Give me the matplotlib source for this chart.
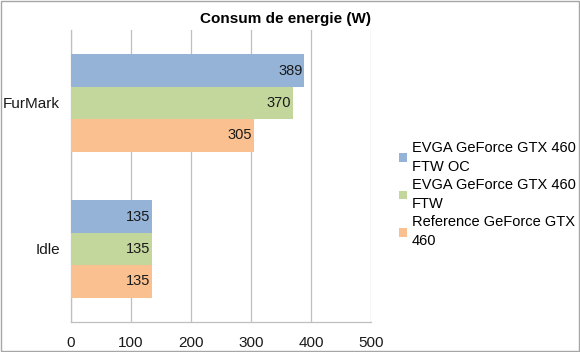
import matplotlib.pyplot as plt
import numpy as np

plt.rcParams['font.family'] = ['Liberation Sans', 'DejaVu Sans']

categories = ["FurMark", "Idle"]
series_names = ["EVGA GeForce GTX 460\nFTW OC", "EVGA GeForce GTX 460\nFTW", "Reference GeForce GTX\n460"]
oc_vals = [389, 135]
ftw_vals = [370, 135]
ref_vals = [305, 135]
colors = ["#95B3D7", "#C3D69B", "#FAC090"]
xticks = [0, 100, 200, 300, 400, 500]

fig = plt.figure(figsize=(5.8, 3.52), dpi=100)
ax = fig.add_axes([71/580, 1-322/352, 300/580, 292/352])

y = np.arange(len(categories))
h = 0.222
handles = []
for i, (vals, c) in enumerate(zip([oc_vals, ftw_vals, ref_vals], colors)):
    bars = ax.barh(y + (i - 1) * h, vals, height=h, color=c, zorder=3)
    handles.append(bars)
    for b, v in zip(bars, vals):
        ax.text(v - 3, b.get_y() + b.get_height() / 2, str(v), ha='right', va='center',
                fontsize=10.5, color='#1a1a1a', zorder=4)

ax.set_xlim(0, 500)
ax.set_ylim(1.5, -0.5)
ax.set_xticks(xticks)
ax.set_yticks(y)
ax.set_yticklabels(categories)
ax.tick_params(axis='both', length=0, labelsize=11, colors='#1a1a1a')
ax.tick_params(axis='x', pad=10)
ax.tick_params(axis='y', pad=8)
ax.grid(axis='x', color='#BFBFBF', linewidth=0.9, zorder=0)
for s in ['top', 'right']:
    ax.spines[s].set_visible(False)
for s in ['left', 'bottom']:
    ax.spines[s].set_color('#BFBFBF')
    ax.spines[s].set_linewidth(0.9)

fig.text(285/580, 1 - 19/352, "Consum de energie (W)", ha='center', va='center',
         fontsize=11, fontweight='bold')

leg = fig.legend(handles, series_names, loc='upper left', bbox_to_anchor=(393/580, 1-135/352),
                 frameon=False, fontsize=10.5, handlelength=0.55, handleheight=0.55,
                 handletextpad=0.35, labelspacing=0.3, borderaxespad=0)
for t in leg.get_texts():
    t.set_linespacing(1.45)

fig.patches.append(plt.Rectangle((0.001, 0.002), 0.997, 0.995, transform=fig.transFigure,
                                 fill=False, edgecolor='#A6A6A6', linewidth=1))
fig.savefig("out.png", dpi=100)
